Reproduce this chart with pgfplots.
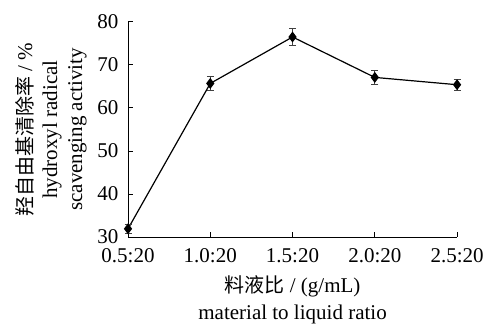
\documentclass[border=0pt]{standalone}
\usepackage{fontspec}
\setmainfont{Liberation Serif}
\newfontfamily\cjk{Noto Sans CJK SC}
\usepackage{pgfplots}
\pgfplotsset{compat=1.18}
\begin{document}
\begin{tikzpicture}
\begin{axis}[
  scale only axis,
  width=329pt, height=215pt,
  xmin=0, xmax=4, ymin=30, ymax=80,
  axis lines*=left,
  axis line style={line width=0.9pt},
  tick style={line width=0.9pt, black},
  major tick length=5pt,
  tick align=inside,
  xtick={0,1,2,3,4},
  xticklabels={0.5:20,1.0:20,1.5:20,2.0:20,2.5:20},
  ytick={30,40,50,60,70,80},
  /pgf/number format/assume math mode=true,
  ticklabel style={font=\fontsize{21}{24}\selectfont},
  xticklabel style={yshift=-8pt},
  yticklabel style={xshift=-6pt},
  xlabel={{\cjk\fontsize{20}{24}\selectfont 料液比} / (g/mL)\\material to liquid ratio},
  xlabel style={align=center, font=\fontsize{21}{27}\selectfont, inner sep=0pt,
    at={(axis description cs:0.5,-0.18)}, anchor=north},
  ylabel={{\cjk\fontsize{20}{24}\selectfont 羟自由基清除率} / \%\\hydroxyl radical\\scavenging activity},
  ylabel style={align=center, font=\fontsize{21}{25}\selectfont, inner sep=0pt,
    at={(axis description cs:-0.125,0.5)}, anchor=south},
  clip=false,
]
\path (rel axis cs:-0.389,-0.395) rectangle (rel axis cs:1.094,1.102);
\addplot[black, line width=1.2pt, mark=diamond*, mark size=4.5pt, mark options={fill=black},
  error bars/.cd, y dir=both, y explicit,
  error bar style={line width=0.8pt, black!75},
  error mark options={rotate=90, mark size=3.5pt, line width=0.8pt, black!75}]
coordinates {
  (0,31.9) +- (0,1.0)
  (1,65.7) +- (0,1.6)
  (2,76.5) +- (0,2.0)
  (3,67.1) +- (0,1.7)
  (4,65.4) +- (0,1.3)
};
\end{axis}
\end{tikzpicture}
\end{document}
